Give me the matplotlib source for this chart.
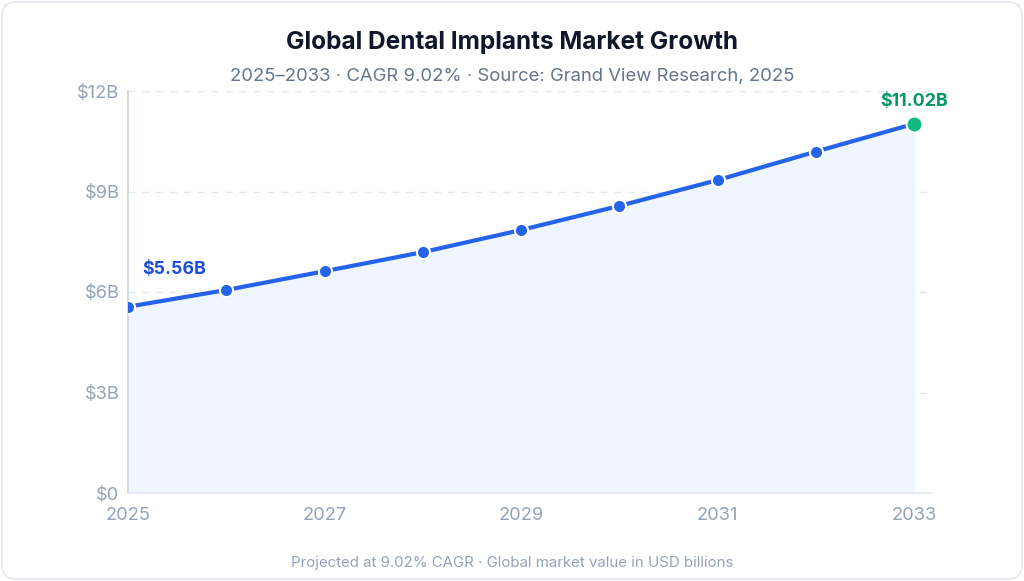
import matplotlib
matplotlib.use("Agg")
import matplotlib.pyplot as plt
from matplotlib.patches import FancyBboxPatch

years = [2025, 2026, 2027, 2028, 2029, 2030, 2031, 2032, 2033]
values = [5.56, 6.06, 6.62, 7.19, 7.85, 8.57, 9.34, 10.19, 11.02]
y_ticks = [0, 3, 6, 9, 12]
y_tick_labels = ["$0", "$3B", "$6B", "$9B", "$12B"]
x_ticks = [2025, 2027, 2029, 2031, 2033]
x_tick_labels = ["2025", "2027", "2029", "2031", "2033"]
title = "Global Dental Implants Market Growth"
subtitle = "2025\u20132033 \u00b7 CAGR 9.02% \u00b7 Source: Grand View Research, 2025"
footer = "Projected at 9.02% CAGR \u00b7 Global market value in USD billions"
start_label = "$5.56B"
end_label = "$11.02B"

plt.rcParams['font.family'] = ['Inter', 'DejaVu Sans']

fig = plt.figure(figsize=(10.24, 5.81), dpi=100)
fig.patch.set_facecolor('white')

card = FancyBboxPatch((2/1024, 2/581), 1020/1024, 577/581,
                      boxstyle="round,pad=0,rounding_size=0.014",
                      transform=fig.transFigure, facecolor='white',
                      edgecolor='#e2e8f0', linewidth=1.2, mutation_aspect=1024/581,
                      zorder=-10)
fig.patches.append(card)

ax = fig.add_axes([128/1024, 1-493/581, 804/1024, (493-91)/581])
ax.set_zorder(5)
ax.set_facecolor('none')

blue = '#2563eb'
green = '#10b981'

ax.fill_between(years, values, 0, color='#eff6ff', zorder=1)
ax.plot(years, values, color=blue, lw=3.0, zorder=3, solid_capstyle='round')
ax.plot(years[:-1], values[:-1], 'o', color=blue, markersize=9.5,
        markeredgecolor='white', markeredgewidth=1.5, zorder=4)
ax.plot(years[-1:], values[-1:], 'o', color=green, markersize=11.5,
        markeredgecolor='white', markeredgewidth=1.5, zorder=5)

ax.annotate(start_label, (years[0], values[0]), xytext=(10, 21), textcoords='offset points',
            color='#1d4ed8', fontsize=12.8, fontweight='bold', ha='left', va='bottom')
ax.annotate(end_label, (years[-1], values[-1]), xytext=(0, 10), textcoords='offset points',
            color='#059669', fontsize=12.8, fontweight='bold', ha='center', va='bottom')

ax.set_xlim(2025, 2033 + 18/98.25)
ax.set_ylim(0, 12)
ax.set_yticks(y_ticks)
ax.set_yticklabels(y_tick_labels)
ax.set_xticks(x_ticks)
ax.set_xticklabels(x_tick_labels)
ax.tick_params(axis='both', colors='#94a3b8', labelsize=13.2, length=0)
ax.tick_params(axis='y', pad=6)
ax.tick_params(axis='x', pad=10)
for lab in ax.get_xticklabels() + ax.get_yticklabels():
    lab.set_color('#94a3b8')

ax.grid(axis='y', color='#e2e8f0', linestyle=(0, (5, 5)), linewidth=1, zorder=0)
ax.set_axisbelow(True)
for s in ['top', 'right']:
    ax.spines[s].set_visible(False)
ax.spines['left'].set_color('#cbd5e1')
ax.spines['left'].set_linewidth(1.2)
ax.spines['bottom'].set_color('#e2e8f0')
ax.spines['bottom'].set_linewidth(1.2)

fig.text(0.5, 1-42/581, title, ha='center', va='center', fontsize=17.6,
         fontweight='bold', color='#0f172a')
fig.text(0.5, 1-76/581, subtitle, ha='center', va='center', fontsize=13.3,
         color='#64748b')
fig.text(0.5, 1-563/581, footer, ha='center', va='center', fontsize=10.8,
         color='#94a3b8')

fig.savefig('out.png', dpi=100, facecolor='white')
